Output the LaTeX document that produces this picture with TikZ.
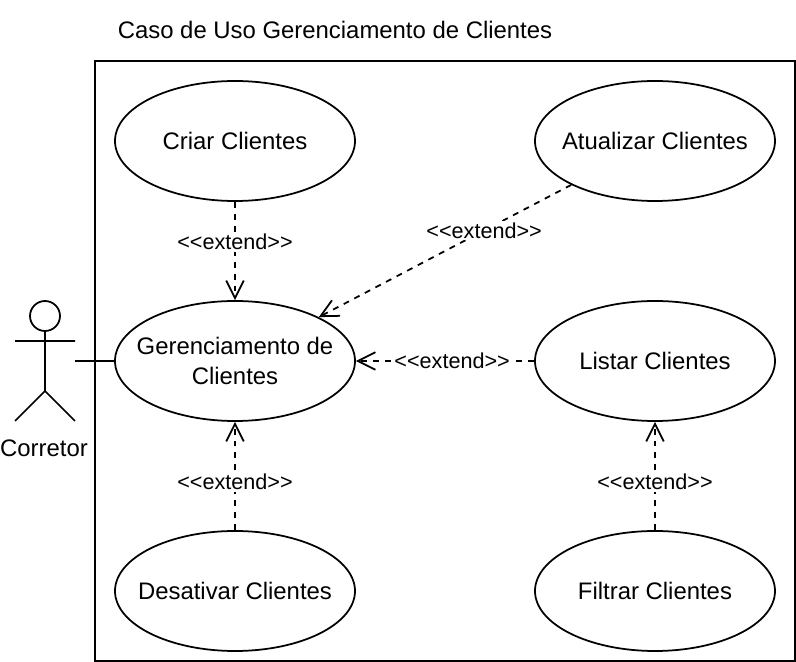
\documentclass[tikz,border=0pt]{standalone}
\usepackage{fontspec}
\setmainfont{Liberation Sans}
\usetikzlibrary{arrows.meta,positioning,shapes.geometric}
\tikzset{
usecase/.style={draw,ellipse,minimum width=240*0.02cm,minimum height=120*0.02cm,inner xsep=-0.4cm,inner ysep=0pt,align=center,font=\fontsize{13.6}{17}\selectfont},
extend/.style={line width=1pt,dash pattern=on 3.4pt off 3.4pt,-{Straight Barb[length=10pt,width=10pt,line width=1pt]}},
extendlabel/.style={fill=white,inner sep=1pt,font=\fontsize{12.3}{14}\selectfont},
}
\begin{document}
\begin{tikzpicture}[x=0.02cm,y=-0.02cm,line width=1pt]
\useasboundingbox (0,0) rectangle (796,662);
\node[font=\fontsize{13.6}{15}\selectfont] (title) at (335,30) {Caso de Uso Gerenciamento de Clientes};
\draw (95,61) rectangle (795,661);
\node[usecase] (criar) at (235,141) {Criar Clientes};
\node[usecase] (atualizar) at (655,141) {Atualizar Clientes};
\node[usecase] (gerenc) at (235,361) {Gerenciamento de\\Clientes};
\node[usecase] (listar) at (655,361) {Listar Clientes};
\node[usecase] (desativar) at (235,591) {Desativar Clientes};
\node[usecase] (filtrar) at (655,591) {Filtrar Clientes};
% ator
\node[draw,circle,minimum size=30*0.02cm,inner sep=0pt] (head) at (45,316) {};
\coordinate (hip) at (45,391);
\coordinate (hand) at (75,361);
\draw (head.south) -- (hip) (15,341)--(75,341) (15,421)--(hip)--(75,421);
\node[font=\fontsize{13.6}{15}\selectfont] (corretor) at (44,448) {Corretor};
\draw (hand) -- (gerenc);
% extends
\draw[extend] (criar) -- (gerenc) node[extendlabel,pos=0.41] (e1) {{<}{<}extend{>}{>}};
\draw[extend] (atualizar) -- (gerenc) node[extendlabel,pos=0.345] (e2) {{<}{<}extend{>}{>}};
\draw[extend] (listar) -- (gerenc) node[extendlabel,pos=0.46] (e3) {{<}{<}extend{>}{>}};
\draw[extend] (desativar) -- (gerenc) node[extendlabel,pos=0.445] (e4) {{<}{<}extend{>}{>}};
\draw[extend] (filtrar) -- (listar) node[extendlabel,pos=0.445] (e5) {{<}{<}extend{>}{>}};
\end{tikzpicture}
\end{document}
